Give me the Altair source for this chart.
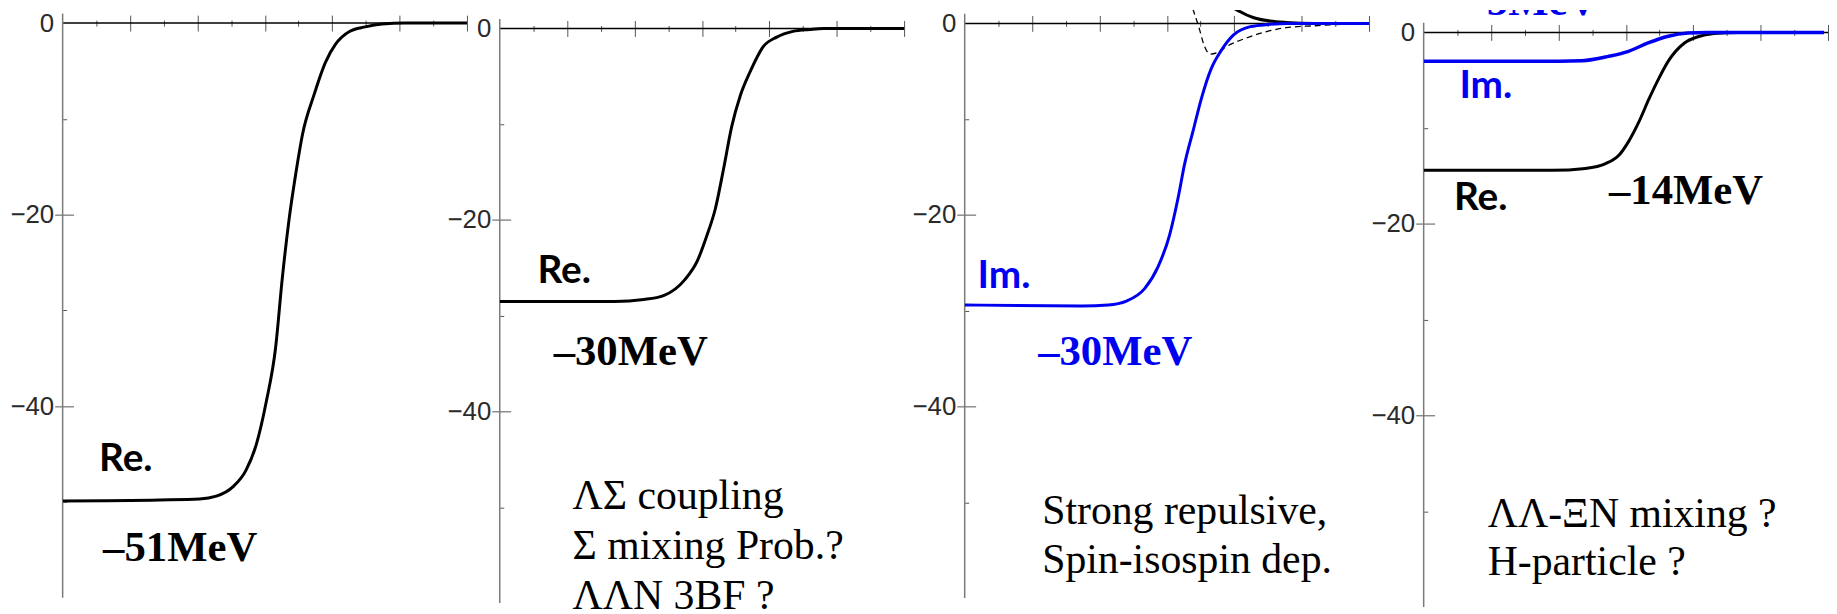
import altair as alt
import pandas as pd

# ---------------- data ----------------
# Panel 1: Re. part, about -51 MeV depth
p1_re_x = [0, 1.44, 2.03, 2.28, 2.53, 2.72, 2.87, 3.02, 3.16, 3.26, 3.36, 3.46, 3.56, 3.73, 3.90, 4.05, 4.25, 4.49, 4.74, 5.08, 6]
p1_re_y = [-49.9, -49.8, -49.7, -49.4, -48.4, -46.7, -44.1, -39.6, -33.9, -26.6, -20.5, -15.7, -11.6, -7.5, -4.1, -2.2, -0.9, -0.4, -0.1, 0, 0]

# Panel 2: Re. part, about -30 MeV
p2_re_x = [0, 1.70, 2.14, 2.43, 2.75, 2.93, 3.07, 3.20, 3.32, 3.44, 3.57, 3.71, 3.91, 4.11, 4.35, 4.60, 4.80, 6]
p2_re_y = [-28.5, -28.5, -28.3, -27.9, -26.2, -24.3, -21.7, -18.8, -14.7, -10.3, -7.0, -4.6, -1.9, -0.9, -0.3, -0.1, 0, 0]

# Panel 3: Im. part (blue), repulsive Re. part (black) and dashed curve
p3_im_x = [0, 1.74, 2.13, 2.40, 2.67, 2.87, 3.04, 3.17, 3.26, 3.39, 3.51, 3.66, 3.80, 3.99, 4.24, 4.53, 4.80, 6]
p3_im_y = [-29.4, -29.5, -29.4, -29.0, -27.7, -25.4, -22.1, -18.1, -14.8, -11.2, -7.9, -4.7, -2.9, -1.2, -0.34, -0.1, 0, 0]
p3_re_x = [3.80, 3.89, 4.09, 4.29, 4.53, 4.77, 5.20, 6]
p3_re_y = [3.3, 2.25, 1.21, 0.59, 0.25, 0.1, 0, 0]
p3_dash_x = [3.30, 3.35, 3.40, 3.48, 3.55, 3.64, 3.76, 3.89, 4.19, 4.48, 4.77, 5.19, 5.60, 6]
p3_dash_y = [3.5, 2.25, 1.21, -0.52, -2.24, -3.2, -3.0, -2.4, -1.5, -0.85, -0.45, -0.25, -0.1, 0]

# Panel 4: Re. (black, about -14 MeV) and Im. (blue, about -5 MeV)
p4_re_x = [0, 1.91, 2.40, 2.70, 2.90, 3.04, 3.19, 3.34, 3.49, 3.63, 3.87, 4.07, 4.31, 4.67, 6]
p4_re_y = [-14.4, -14.4, -14.2, -13.7, -12.8, -11.4, -9.4, -7.0, -4.8, -3.0, -1.1, -0.45, -0.12, 0, 0]
p4_im_x = [0, 2.01, 2.35, 2.74, 3.04, 3.33, 3.63, 3.92, 4.20, 6]
p4_im_y = [-3.0, -3.0, -2.95, -2.5, -1.97, -1.1, -0.4, -0.07, 0, 0]

# axis tick values
y_label_values = [0, -20, -40]
y_minor_values = [-10, -30, -50]
x_major_values = [1, 2, 3, 4, 5, 6]
x_minor_values = [0.5, 1.5, 2.5, 3.5, 4.5, 5.5]

# annotation texts (panel index, text) and their anchor (x, y in data units)
ann_panel = [0, 0, 1, 1, 1, 1, 1, 2, 2, 2, 2, 3, 3, 3, 3, 3, 3]
ann_text = ["Re.", "–51MeV",
            "Re.", "–30MeV", "ΛΣ coupling", "Σ mixing Prob.?", "ΛΛN 3BF ?",
            "Im.", "–30MeV", "Strong repulsive,", "Spin-isospin dep.",
            "–5MeV", "Im.", "Re.", "–14MeV", "ΛΛ-ΞN mixing ?", "H-particle ?"]
ann_x = [0.54, 0.60,
         0.56, 0.80, 1.08, 1.08, 1.08,
         0.19, 1.09, 1.15, 1.15,
         0.62, 0.53, 0.45, 2.75, 0.95, 0.95]
ann_y = [-46.75, -56.15,
         -26.6, -35.1, -50.2, -55.4, -60.6,
         -27.6, -35.7, -52.3, -57.4,
         1.85, -6.8, -18.5, -17.9, -51.6, -56.7]

# ---------------- styles / layout ----------------
BLACK = "#000000"
BLUE = "#0000F0"
TICK = "#555555"

ann_style = ["label", "value",
             "label", "value", "note", "note", "note",
             "label", "value", "note", "note",
             "value", "label", "label", "value", "note", "note"]
ann_color = [BLACK, BLACK,
             BLACK, BLACK, BLACK, BLACK, BLACK,
             BLUE, BLUE, BLACK, BLACK,
             BLUE, BLUE, BLACK, BLACK, BLACK, BLACK]
STYLES = {
    "label": dict(font="Lato", fontSize=39, fontWeight="bold"),
    "value": dict(font="Liberation Serif", fontSize=43, fontWeight="bold"),
    "note": dict(font="Liberation Serif", fontSize=42, fontWeight="normal"),
}

SERIES = [
    [dict(x=p1_re_x, y=p1_re_y, color=BLACK, w=3.0)],
    [dict(x=p2_re_x, y=p2_re_y, color=BLACK, w=3.0)],
    [dict(x=p3_dash_x, y=p3_dash_y, color=BLACK, w=1.3, dash=[6, 4]),
     dict(x=p3_re_x, y=p3_re_y, color=BLACK, w=3.0),
     dict(x=p3_im_x, y=p3_im_y, color=BLUE, w=3.0)],
    [dict(x=p4_re_x, y=p4_re_y, color=BLACK, w=3.0),
     dict(x=p4_im_x, y=p4_im_y, color=BLUE, w=3.5)],
]

PX = 9.64                        # pixels per unit on y
ZERO = [13.2, 18.6, 13.5, 22.6]  # pixel position of y=0 below each panel top
WIDTHS = [439.5, 467.8, 461.4, 403.0]
HEIGHT = 604
XLEN = 407
LABEL_FONT = "Liberation Sans, Arial, sans-serif"


def make_panel(i):
    z = ZERO[i]
    xs = alt.Scale(domain=[0, 6], range=[0, XLEN], nice=False, zero=False)
    ys = alt.Scale(domain=[-60, 1], range=[z + 60 * PX, z - PX], nice=False, zero=False)

    ax_x_major = alt.Axis(orient="top", offset=-(z + 8), tickSize=16, values=x_major_values,
                          labels=False, domain=False, grid=False, tickColor=TICK, tickWidth=1, title=None)
    ax_x_minor = alt.Axis(orient="top", offset=-(z + 3), tickSize=6, values=x_minor_values,
                          labels=False, domain=False, grid=False, tickColor=TICK, tickWidth=1, title=None)
    ax_y_label = alt.Axis(orient="left", offset=-11, tickSize=19, values=y_label_values,
                          labelPadding=1, domain=False, grid=False, tickColor=TICK, tickWidth=1,
                          tickOpacity={"condition": {"test": "datum.value === 0", "value": 0}, "value": 1},
                          labelExpr="datum.value == 0 ? '0' : '\u2212' + format(-datum.value, 'd')",
                          labelFont=LABEL_FONT, labelFontSize=26, labelColor="#2a2a2a",
                          labelFontWeight="normal", title=None)
    ax_y_minor = alt.Axis(orient="left", offset=-4, tickSize=4, values=y_minor_values,
                          labels=False, domain=False, grid=False, tickColor=TICK, tickWidth=1, title=None)

    layers = []
    xline = pd.DataFrame({"x0": [0.0], "x1": [6.0], "y": [0.0]})
    layers.append(
        alt.Chart(xline).mark_rule(color=BLACK, strokeWidth=1.5).encode(
            x=alt.X("x0:Q", scale=xs, axis=ax_x_minor), x2="x1:Q",
            y=alt.Y("y:Q", scale=ys, axis=ax_y_minor))
    )
    yline = pd.DataFrame({"x": [0.0], "y0": [-60.0], "y1": [1.0]})
    layers.append(
        alt.Chart(yline).mark_rule(color="#7a7a7a", strokeWidth=1.5).encode(
            x=alt.X("x:Q", scale=xs, axis=None),
            y=alt.Y("y0:Q", scale=ys, axis=None), y2="y1:Q")
    )
    for k, s in enumerate(SERIES[i]):
        df = pd.DataFrame({"x": s["x"], "y": s["y"]})
        kw = dict(color=s["color"], strokeWidth=s["w"], interpolate="monotone", clip=True)
        if "dash" in s:
            kw["strokeDash"] = s["dash"]
        first = k == 0
        layers.append(
            alt.Chart(df).mark_line(**kw).encode(
                x=alt.X("x:Q", scale=xs, axis=ax_x_major if first else None),
                y=alt.Y("y:Q", scale=ys, axis=ax_y_label if first else None))
        )
    for j in range(len(ann_text)):
        if ann_panel[j] != i:
            continue
        df = pd.DataFrame({"x": [ann_x[j]], "y": [ann_y[j]], "t": [ann_text[j]]})
        st = STYLES[ann_style[j]]
        layers.append(
            alt.Chart(df).mark_text(align="left", baseline="alphabetic", color=ann_color[j],
                                    clip=True, **st).encode(
                x=alt.X("x:Q", scale=xs, axis=None),
                y=alt.Y("y:Q", scale=ys, axis=None),
                text="t:N")
        )
    return alt.layer(*layers).resolve_axis(x="independent", y="independent").properties(
        width=WIDTHS[i], height=HEIGHT)


panels = [make_panel(i) for i in range(4)]
chart = alt.hconcat(*panels, spacing=0, bounds="flush").properties(
    padding={"left": 1, "top": 0, "right": 0, "bottom": 0},
    background="white",
).configure_view(stroke=None)

chart.save("out.html", embed_options={"renderer": "svg", "actions": False})
